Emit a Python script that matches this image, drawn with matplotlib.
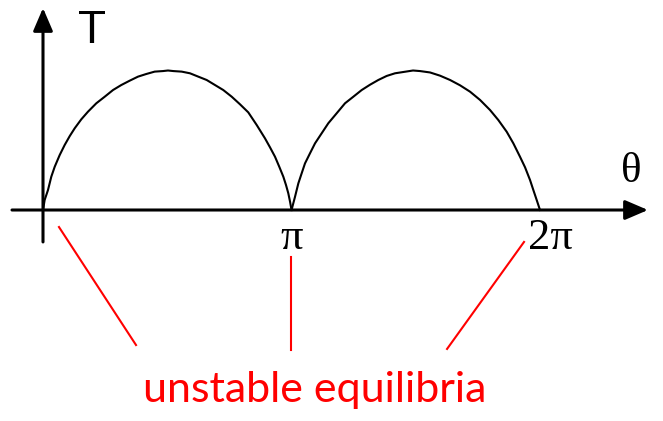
import numpy as np
import matplotlib.pyplot as plt

# kinetic energy T over angle theta (T scaled so peak = 1)
theta1 = [0.0, 0.021, 0.063, 0.105, 0.148, 0.211, 0.274, 0.338, 0.401, 0.484,
          0.569, 0.674, 0.780, 0.885, 0.990, 1.096, 1.201, 1.306, 1.412, 1.517,
          1.580, 1.647, 1.753, 1.858, 1.963, 2.069, 2.174, 2.279, 2.386, 2.490,
          2.595, 2.702, 2.806, 2.870, 2.933, 2.987, 3.038, 3.072, 3.101, 3.123, 3.142]
T1 = [0.0, 0.072, 0.143, 0.239, 0.310, 0.394, 0.466, 0.530, 0.586, 0.650,
      0.705, 0.765, 0.812, 0.860, 0.896, 0.927, 0.956, 0.975, 0.992, 0.996,
      1.0, 0.996, 0.992, 0.980, 0.956, 0.932, 0.896, 0.860, 0.812, 0.758,
      0.700, 0.609, 0.514, 0.449, 0.382, 0.310, 0.239, 0.179, 0.120, 0.060, 0.0]
theta2 = [3.142, 3.186, 3.228, 3.270, 3.312, 3.375, 3.439, 3.523, 3.607, 3.712,
          3.818, 3.923, 4.029, 4.134, 4.239, 4.345, 4.450, 4.575, 4.678, 4.766,
          4.893, 5.019, 5.146, 5.272, 5.399, 5.525, 5.651, 5.756, 5.862, 5.946,
          6.030, 6.094, 6.157, 6.199, 6.241, 6.262, 6.283]
T2 = [0.0, 0.095, 0.191, 0.263, 0.334, 0.406, 0.478, 0.550, 0.622, 0.693,
      0.765, 0.812, 0.860, 0.898, 0.932, 0.961, 0.980, 0.991, 1.0, 0.996,
      0.986, 0.963, 0.932, 0.894, 0.848, 0.789, 0.717, 0.645, 0.561, 0.478,
      0.382, 0.306, 0.215, 0.143, 0.072, 0.036, 0.0]

tick_pos = [np.pi, 2 * np.pi]
tick_labels = ['π', '2π']

fig = plt.figure(figsize=(6.63, 4.21), dpi=100)
ax = fig.add_axes([0, 0, 1, 1])
ax.set_xlim(-0.5436, 7.838)
ax.set_ylim(-1.5125, 1.5054)
ax.axis('off')

# axes with arrow heads
arrow = dict(arrowstyle='-|>,head_length=0.7,head_width=0.3', lw=2.2,
             color='black', shrinkA=0, shrinkB=0, mutation_scale=20)
ax.annotate('', xy=(7.648, 0), xytext=(-0.392, 0), arrowprops=arrow)
ax.annotate('', xy=(0, 1.448), xytext=(0, -0.229), arrowprops=arrow)

ax.plot(theta1, T1, color='black', lw=1.5, solid_joinstyle='round')
ax.plot(theta2, T2, color='black', lw=1.5, solid_joinstyle='round')

ax.text(0.619, 1.283, 'T', fontsize=33, family='Liberation Sans',
        ha='center', va='center')
ax.text(7.434, 0.272, 'θ', fontsize=31, family='Liberation Serif',
        ha='center', va='center')
for x, lab in zip(tick_pos, tick_labels):
    ax.text(x + (0.13 if lab == '2π' else 0.0), -0.20, lab, fontsize=32,
            family='Liberation Serif', ha='center', va='center')

# pointers to the equilibria
red = '#ff0000'
ax.plot([0.202, 1.176], [-0.122, -0.968], color=red, lw=1.5)
ax.plot([3.135, 3.135], [-0.337, -1.004], color=red, lw=1.5)
ax.plot([6.081, 5.108], [-0.229, -0.996], color=red, lw=1.5)
ax.text(3.439, -1.29, 'unstable equilibria', fontsize=31, color=red,
        family='Lato', ha='center', va='center')

fig.savefig('out.png', dpi=100)
